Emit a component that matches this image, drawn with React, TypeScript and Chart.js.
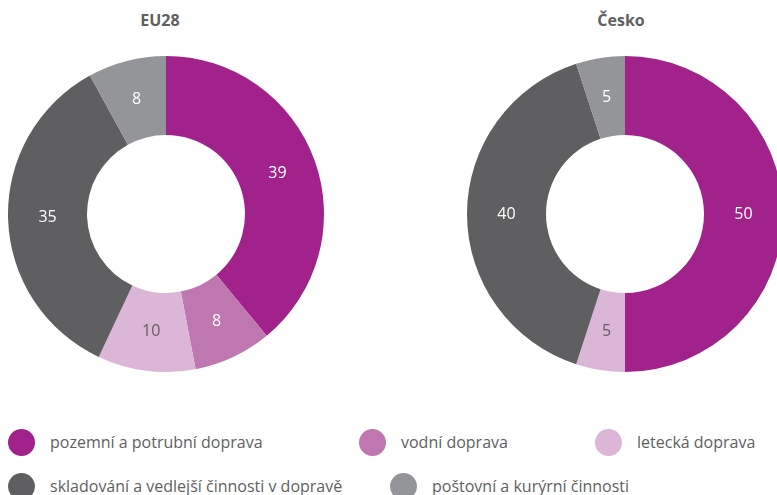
import React, { useEffect, useRef } from "react";
import { Chart, registerables } from "chart.js";

Chart.register(...registerables);

const categories = [
  "pozemní a potrubní doprava",
  "vodní doprava",
  "letecká doprava",
  "skladování a vedlejší činnosti v dopravě",
  "poštovní a kurýrní činnosti",
];
const colors = ["#a2228b", "#bf77b0", "#dcb6d6", "#5f5f61", "#939598"];
const labelColors = ["#ffffff", "#ffffff", "#5f5f61", "#ffffff", "#ffffff"];
const titles = ["EU28", "Česko"];
const valuesEU28 = [39, 8, 10, 35, 8];
const valuesCesko = [50, 0, 5, 40, 5];

const FONT = "'Open Sans', 'DejaVu Sans', sans-serif";
const TEXT = "#5f5f61";

const labelPlugin = {
  id: "segLabels",
  afterDatasetsDraw(chart: any) {
    const ctx = chart.ctx;
    const meta = chart.getDatasetMeta(0);
    const data = chart.data.datasets[0].data;
    ctx.save();
    ctx.font = `16px ${FONT}`;
    ctx.textAlign = "center";
    ctx.textBaseline = "middle";
    meta.data.forEach((arc: any, i: number) => {
      if (!data[i]) return;
      const p = arc.tooltipPosition();
      ctx.fillStyle = labelColors[i];
      ctx.fillText(String(data[i]), p.x, p.y);
    });
    ctx.restore();
  },
};

function Donut({ values, left }: { values: number[]; left: number }) {
  const ref = useRef<HTMLCanvasElement>(null);
  useEffect(() => {
    const chart = new Chart(ref.current!, {
      type: "doughnut",
      data: {
        labels: categories,
        datasets: [
          {
            data: values,
            backgroundColor: colors,
            borderWidth: 0,
          },
        ],
      },
      options: {
        animation: false,
        responsive: false,
        cutout: "50%",
        plugins: {
          legend: { display: false },
          tooltip: { enabled: false },
        },
      },
      plugins: [labelPlugin],
    });
    return () => chart.destroy();
  }, []);
  return (
    <canvas
      ref={ref}
      width={316}
      height={316}
      style={{ position: "absolute", left, top: 56, width: 316, height: 316 }}
    />
  );
}

const legendPos = [
  { left: 8, top: 429 },
  { left: 359, top: 429 },
  { left: 595, top: 429 },
  { left: 8, top: 473 },
  { left: 390, top: 473 },
];

export default function App() {
  return (
    <div
      style={{
        position: "fixed",
        left: 0,
        top: 0,
        width: 777,
        height: 495,
        overflow: "hidden",
        background: "#fff",
        fontFamily: FONT,
        color: TEXT,
      }}
    >
      {titles.map((t, i) => (
        <div
          key={t}
          style={{
            position: "absolute",
            left: i === 0 ? 60 : 521,
            width: 200,
            top: 9,
            textAlign: "center",
            fontWeight: 700,
            fontSize: 16,
            lineHeight: "22px",
          }}
        >
          {t}
        </div>
      ))}
      <Donut values={valuesEU28} left={8} />
      <Donut values={valuesCesko} left={467} />
      {categories.map((c, i) => (
        <div
          key={c}
          style={{
            position: "absolute",
            left: legendPos[i].left,
            top: legendPos[i].top,
            display: "flex",
            alignItems: "center",
            height: 26,
            whiteSpace: "nowrap",
          }}
        >
          <span
            style={{
              width: 27,
              height: 27,
              borderRadius: "50%",
              background: colors[i],
              display: "inline-block",
              marginRight: 15,
            }}
          />
          <span style={{ fontSize: 16 }}>{c}</span>
        </div>
      ))}
    </div>
  );
}
